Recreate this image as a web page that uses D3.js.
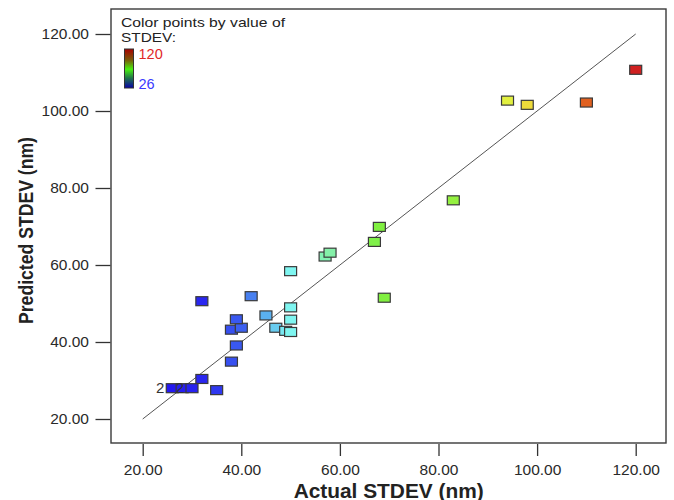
<!DOCTYPE html>
<html>
<head>
<meta charset="utf-8">
<script src="https://cdn.jsdelivr.net/npm/d3@7"></script>
<style>
  html, body { margin: 0; padding: 0; background: #fff; }
  svg { display: block; font-family: "Liberation Sans", Arial, sans-serif; }
</style>
</head>
<body>
<svg id="chart" width="674" height="500"></svg>
<script>
// ---- data ----
const actual    = [26, 28, 30, 32, 35, 38, 39, 38, 40, 39, 32, 42, 45, 47, 49, 50, 50, 50, 50, 57, 58, 67, 68, 69, 83, 94, 98, 110, 120];
const predicted = [28, 28, 28, 30.4, 27.5, 34.9, 39.1, 43.2, 43.7, 45.9, 50.6, 51.9, 46.9, 43.7, 42.9, 42.6, 45.8, 49.0, 58.4, 62.2, 63.2, 66.0, 69.9, 51.5, 76.8, 102.7, 101.6, 102.2, 110.7];
const counts    = [2, 1, 2, 1, 1, 1, 1, 1, 1, 1, 1, 1, 1, 1, 1, 1, 1, 1, 1, 1, 1, 1, 1, 1, 1, 1, 1, 1, 1];
const tickValues = [20, 40, 60, 80, 100, 120];
const legendMin = 26, legendMax = 120;
const colorStops  = [26, 33, 40, 45, 50, 58, 68, 83, 96, 110, 120];
const colorValues = ["#2418f0", "#2a28f0", "#3c60f0", "#5ab0f0", "#7ff5f0", "#84f0a8", "#80f040", "#94f040", "#f0f040", "#e06020", "#d02020"];
const xTitle = "Actual STDEV (nm)";
const yTitle = "Predicted STDEV (nm)";
const legendLines = ["Color points by value of", "STDEV:"];

// ---- layout ----
const svg = d3.select("#chart");
const frame = { left: 111, top: 9, right: 666, bottom: 443 };
const x = d3.scaleLinear().domain([20, 120]).range([142.7, 635.7]);
const y = d3.scaleLinear().domain([20, 120]).range([419, 34]);
const color = d3.scaleLinear().domain(colorStops).range(colorValues);

// frame
svg.append("rect")
  .attr("x", frame.left).attr("y", frame.top)
  .attr("width", frame.right - frame.left).attr("height", frame.bottom - frame.top)
  .attr("fill", "none").attr("stroke", "#3a3a3a").attr("stroke-width", 1.4);

// axes
const fmt = d3.format(".2f");
const xAxis = svg.append("g").attr("transform", `translate(0,${frame.bottom + 1})`)
  .call(d3.axisBottom(x).tickValues(tickValues).tickFormat(fmt).tickSize(12).tickPadding(8));
const yAxis = svg.append("g").attr("transform", `translate(${frame.left - 0.5},0)`)
  .call(d3.axisLeft(y).tickValues(tickValues).tickFormat(fmt).tickSize(15).tickPadding(6.5));
[xAxis, yAxis].forEach(g => {
  g.select(".domain").remove();
  g.selectAll(".tick line").attr("stroke", "#333").attr("stroke-width", 1.3);
  g.selectAll(".tick text").attr("fill", "#2a2a2a")
    .style("font-family", '"Liberation Sans", Arial, sans-serif').style("font-size", "15.5px");
});

// axis titles
svg.append("text")
  .attr("x", 388.7).attr("y", 497.5)
  .attr("text-anchor", "middle")
  .attr("textLength", 190).attr("lengthAdjust", "spacingAndGlyphs")
  .style("font-size", "20px").style("font-weight", "bold").attr("fill", "#222")
  .text(xTitle);
svg.append("text")
  .attr("transform", "translate(33,230.5) rotate(-90)")
  .attr("text-anchor", "middle")
  .attr("textLength", 187).attr("lengthAdjust", "spacingAndGlyphs")
  .style("font-size", "20px").style("font-weight", "bold").attr("fill", "#222")
  .text(yTitle);

// diagonal reference line
svg.append("line")
  .attr("x1", x(20)).attr("y1", y(20)).attr("x2", x(120)).attr("y2", y(120))
  .attr("stroke", "#555").attr("stroke-width", 1);

// points
const pts = actual.map((a, i) => ({ a, p: predicted[i], n: counts[i] }));
const boxW = 12, boxH = 9;
svg.append("g").selectAll("rect").data(pts).join("rect")
  .attr("x", d => x(d.a) - boxW / 2).attr("y", d => y(d.p) - boxH / 2)
  .attr("width", boxW).attr("height", boxH)
  .attr("fill", d => color(d.a))
  .attr("stroke", "#3a3a3a").attr("stroke-width", 1.2);
// count labels for repeated points
svg.append("g").selectAll("text").data(pts.filter(d => d.n > 1)).join("text")
  .attr("x", d => x(d.a) - boxW / 2 - 2).attr("y", d => y(d.p) + 5)
  .attr("text-anchor", "end").attr("fill", "#333")
  .style("font-size", "15px")
  .text(d => d.n);

// legend
const legend = svg.append("g");
legend.selectAll("text.ll").data(legendLines).join("text").attr("class", "ll")
  .attr("x", 121).attr("y", (d, i) => 27 + i * 15)
  .attr("fill", "#222").style("font-size", "13.5px")
  .attr("textLength", (d, i) => i === 0 ? 164 : 55)
  .attr("lengthAdjust", "spacingAndGlyphs")
  .text(d => d);
const defs = svg.append("defs");
const grad = defs.append("linearGradient").attr("id", "lg")
  .attr("x1", 0).attr("y1", 0).attr("x2", 0).attr("y2", 1);
[["0%", "#a80000"], ["28%", "#7a5a08"], ["52%", "#48f010"], ["74%", "#207848"], ["100%", "#0a00a8"]]
  .forEach(s => grad.append("stop").attr("offset", s[0]).attr("stop-color", s[1]));
legend.append("rect")
  .attr("x", 124.5).attr("y", 49).attr("width", 9).attr("height", 39)
  .attr("fill", "url(#lg)").attr("stroke", "#333").attr("stroke-width", 1);
legend.append("text").attr("x", 138.5).attr("y", 59)
  .attr("fill", "#e02828").style("font-size", "14.5px").text(legendMax);
legend.append("text").attr("x", 138.5).attr("y", 88.5)
  .attr("fill", "#3a3aff").style("font-size", "14.5px").text(legendMin);
</script>
</body>
</html>
